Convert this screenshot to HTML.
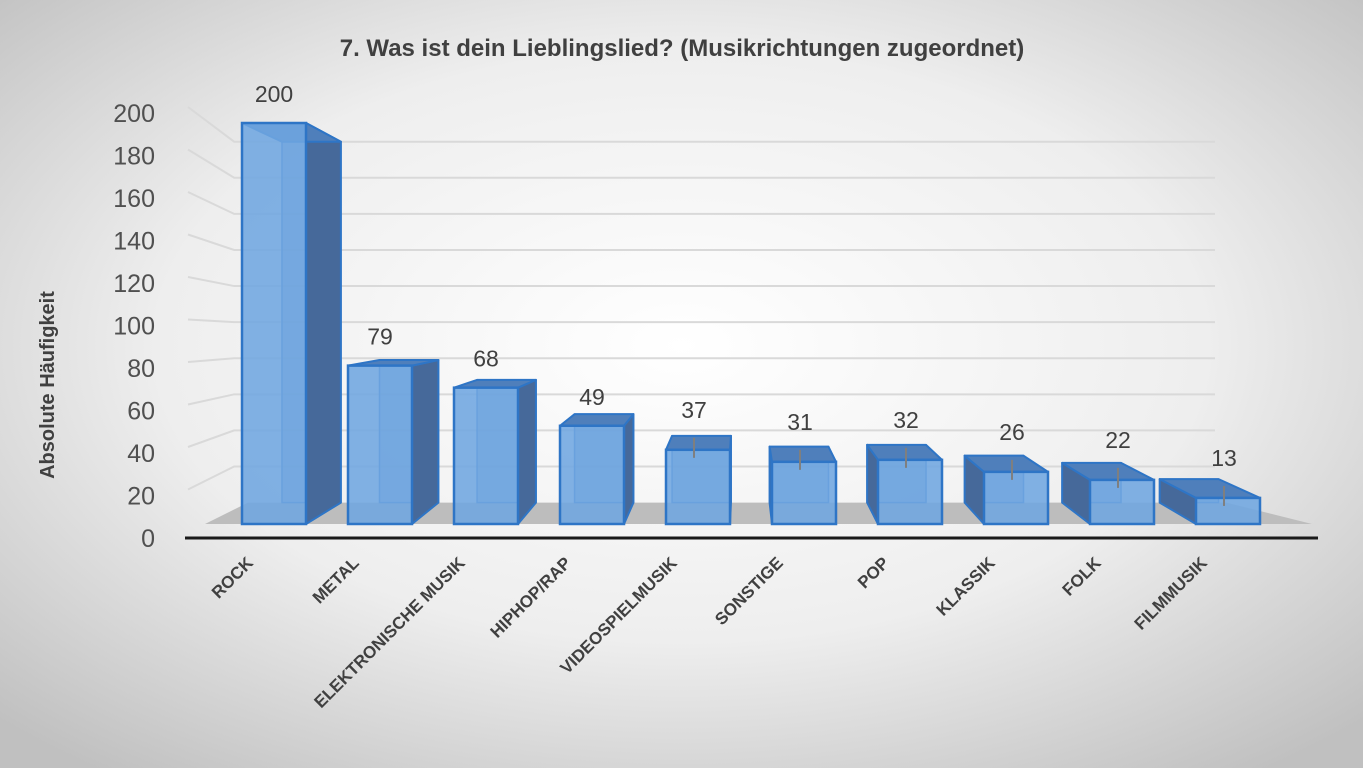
<!DOCTYPE html>
<html><head><meta charset="utf-8"><style>
html,body{margin:0;padding:0}
body{width:1363px;height:768px;overflow:hidden;font-family:"Liberation Sans",sans-serif}
</style></head><body>
<svg id="chart" width="1363" height="768" xmlns="http://www.w3.org/2000/svg">
<defs>
<radialGradient id="bg" cx="50%" cy="45%" r="70%">
<stop offset="0" stop-color="#ffffff"/><stop offset="0.55" stop-color="#eeeeee"/><stop offset="1" stop-color="#c0c0c0"/>
</radialGradient>
</defs>
<rect x="0" y="0" width="1363" height="768" fill="url(#bg)"/>
<text x="682" y="56" text-anchor="middle" font-size="24" font-weight="bold" fill="#404040">7.  Was ist dein Lieblingslied? (Musikrichtungen zugeordnet)</text>
<text transform="translate(54,385) rotate(-90)" text-anchor="middle" font-size="20" font-weight="bold" fill="#404040">Absolute Häufigkeit</text>
<g id="grid"></g><g id="floor"></g><g id="bars"></g><g id="labels"></g>
</svg>
<script>
const categories = ["ROCK","METAL","ELEKTRONISCHE MUSIK","HIPHOP/RAP","VIDEOSPIELMUSIK","SONSTIGE","POP","KLASSIK","FOLK","FILMMUSIK"];
const values = [200,79,68,49,37,31,32,26,22,13];
const valueLabels = ["200","79","68","49","37","31","32","26","22","13"];
const ticks = [0,20,40,60,80,100,120,140,160,180,200];

const NS="http://www.w3.org/2000/svg";
function mk(tag,attrs,parent){const e=document.createElementNS(NS,tag);for(const k in attrs)e.setAttribute(k,attrs[k]);parent.appendChild(e);return e;}
const vx=742,vy=310,kx=0.92,ky=0.9;
const bx=x=>vx+kx*(x-vx), by=y=>vy+ky*(y-vy);
const frontY=v=>524-2.005*v;
const axisY=v=>538-2.125*v;
const barX=i=>242+106*i, barW=64;
const grid=document.getElementById('grid');
const floorG=document.getElementById('floor');
const barsG=document.getElementById('bars');
const labelsG=document.getElementById('labels');

ticks.forEach(t=>{
  const yb=by(frontY(t));
  if(t>0){
    const l=mk('polyline',{points:`188,${axisY(t)-6} ${bx(190)},${yb} 1215,${yb}`,fill:'none',stroke:'#d9d9d9','stroke-width':2},grid);
    
    
  }
  const tx=mk('text',{x:155,y:axisY(t)+9,'text-anchor':'end','font-size':25,fill:'#505050'},grid);
  tx.textContent=t;
  
  
});

const fl=mk('polygon',{points:`205,524 1312,524 ${bx(1312)-40},${by(524)} ${bx(205)},${by(524)}`,fill:'#bdbdbd'},floorG);


const ax=mk('line',{x1:185,y1:538,x2:1318,y2:538,stroke:'#1a1a1a','stroke-width':3},floorG);



values.forEach((v,i)=>{
  const x0=barX(i),x1=x0+barW,yt=frontY(v),yb=524;
  const g=mk('g',{},barsG);
  
  
  const sideX = bx(x0)>x0 ? x1 : x0;
  mk('rect',{x:bx(x0),y:by(yt),width:bx(x1)-bx(x0),height:by(yb)-by(yt),fill:'#5f8fc8','fill-opacity':0.6,stroke:'#3a7bc8','stroke-width':1.5},g);
  mk('polygon',{points:`${sideX},${yt} ${bx(sideX)},${by(yt)} ${bx(sideX)},${by(yb)} ${sideX},${yb}`,fill:'#46699a',stroke:'#2e75c6','stroke-width':2,'stroke-linejoin':'round'},g);
  mk('polygon',{points:`${x0},${yt} ${x1},${yt} ${bx(x1)},${by(yt)} ${bx(x0)},${by(yt)}`,fill:'#4f7fbb',stroke:'#2e75c6','stroke-width':2,'stroke-linejoin':'round'},g);
  mk('rect',{x:x0,y:yt,width:barW,height:yb-yt,fill:'#6fa6e0','fill-opacity':0.88,stroke:'#2e75c6','stroke-width':2.5},g);
  const cx=x0+barW/2;
  const lt=mk('text',{x:cx+(i>3?-4:0),y:yt-(i>3?32:21),'text-anchor':'middle','font-size':23,fill:'#404040'},labelsG);
  lt.textContent=valueLabels[i];
  
  
  if(i>3){
    const ll=mk('line',{x1:cx-4,y1:yt-12,x2:cx-4,y2:yt+8,stroke:'#7f7f7f','stroke-width':2},labelsG);
    
    
  }
  const c=mk('text',{transform:`translate(${cx-20},564) rotate(-45)`,'text-anchor':'end','font-size':17,'font-weight':'bold',fill:'#404040','font-family':'"Liberation Sans Narrow","Liberation Sans",sans-serif'},labelsG);
  c.textContent=categories[i];
  
  
});
</script>
</body></html>
